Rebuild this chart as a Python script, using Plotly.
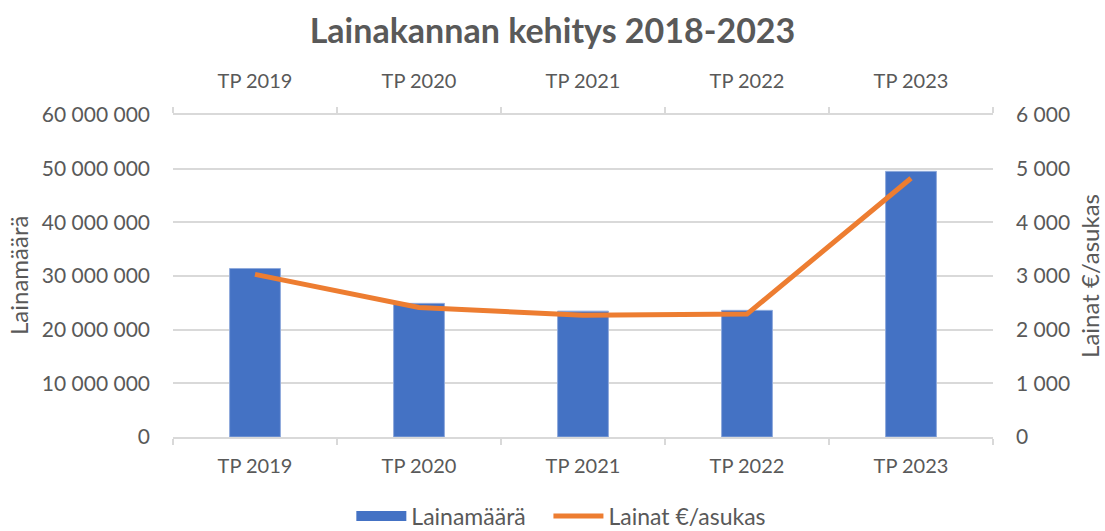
import plotly.graph_objects as go

categories = ["TP 2019", "TP 2020", "TP 2021", "TP 2022", "TP 2023"]
loan_amount = [31400000, 24900000, 23450000, 23600000, 49500000]
loans_per_resident = [3030, 2414, 2270, 2290, 4821]
left_ticks = [0, 10000000, 20000000, 30000000, 40000000, 50000000, 60000000]
right_ticks = [0, 1000, 2000, 3000, 4000, 5000, 6000]

BLUE = "#4472C4"
ORANGE = "#ED7D31"
TXT = "#595959"
GRID = "#D9D9D9"
FONT = "Lato, Open Sans, sans-serif"
NB = "\u00a0"

fig = go.Figure()
fig.add_trace(go.Bar(
    x=categories, y=loan_amount, name="Lainamäärä", showlegend=False,
    marker=dict(color=BLUE, line=dict(color="#8FAADC", width=1)),
    xaxis="x", yaxis="y",
))
# legend entry for the bars (wide rectangle like the original)
fig.add_trace(go.Scatter(
    x=categories, y=[None] * len(categories), name="Lainamäärä" + NB * 3,
    mode="lines", line=dict(color=BLUE, width=15), hoverinfo="skip",
    xaxis="x", yaxis="y",
))
fig.add_trace(go.Scatter(
    x=categories, y=loans_per_resident, name="Lainat €/asukas",
    mode="lines", line=dict(color=ORANGE, width=5),
    xaxis="x", yaxis="y2",
))
# invisible trace for the top category axis
fig.add_trace(go.Scatter(
    x=categories, y=loans_per_resident, mode="lines", showlegend=False,
    line=dict(width=0), hoverinfo="skip", opacity=0,
    xaxis="x2", yaxis="y2",
))

axis_common = dict(
    type="category", showline=True, linecolor=GRID, linewidth=1.5,
    ticks="outside", tickson="boundaries", ticklen=6, tickcolor=GRID, tickwidth=1.5,
    tickfont=dict(family=FONT, size=20, color=TXT), showgrid=False,
    automargin=False,
)

fig.update_layout(
    width=1105, height=531,
    paper_bgcolor="white", plot_bgcolor="white",
    separators=", ",
    margin=dict(l=173, r=112, t=115, b=94),
    title=dict(text="<b>Lainakannan kehitys 2018-2023</b>", x=0.5, xanchor="center",
               y=0.942, yanchor="middle",
               font=dict(family=FONT, size=34, color=TXT)),
    bargap=0.69,
    xaxis=dict(**axis_common, side="bottom", ticklabelstandoff=10),
    xaxis2=dict(**axis_common, side="top", overlaying="x", matches="x", ticklabelstandoff=17),
    yaxis=dict(
        range=[0, 60000000], tickvals=left_ticks,
        tickformat=",d", showgrid=True, gridcolor=GRID, gridwidth=1.5, zeroline=False,
        showline=False, ticks="", ticklabelstandoff=22, automargin=False,
        tickfont=dict(family=FONT, size=21, color=TXT),
    ),
    yaxis2=dict(
        range=[0, 6000], tickvals=right_ticks,
        tickformat=",d", overlaying="y", side="right", showgrid=False, zeroline=False,
        showline=False, ticks="", ticklabelstandoff=22, automargin=False,
        tickfont=dict(family=FONT, size=21, color=TXT),
    ),
    legend=dict(orientation="h", xref="container", yref="container",
                x=0.508, xanchor="center", y=0.028, yanchor="middle",
                font=dict(family=FONT, size=23, color=TXT), itemwidth=50,
                tracegroupgap=0),
    annotations=[
        dict(text="Lainamäärä", xref="paper", yref="paper", x=-0.189, y=0.5,
             xanchor="center", yanchor="middle", textangle=-90, showarrow=False,
             font=dict(family=FONT, size=24, color=TXT)),
        dict(text="Lainat €/asukas", xref="paper", yref="paper", x=1.117, y=0.5,
             xanchor="center", yanchor="middle", textangle=-90, showarrow=False,
             font=dict(family=FONT, size=24, color=TXT)),
    ],
)

fig.write_html("out.html", post_script="document.body.style.margin='0';",
               config={"displayModeBar": False})
